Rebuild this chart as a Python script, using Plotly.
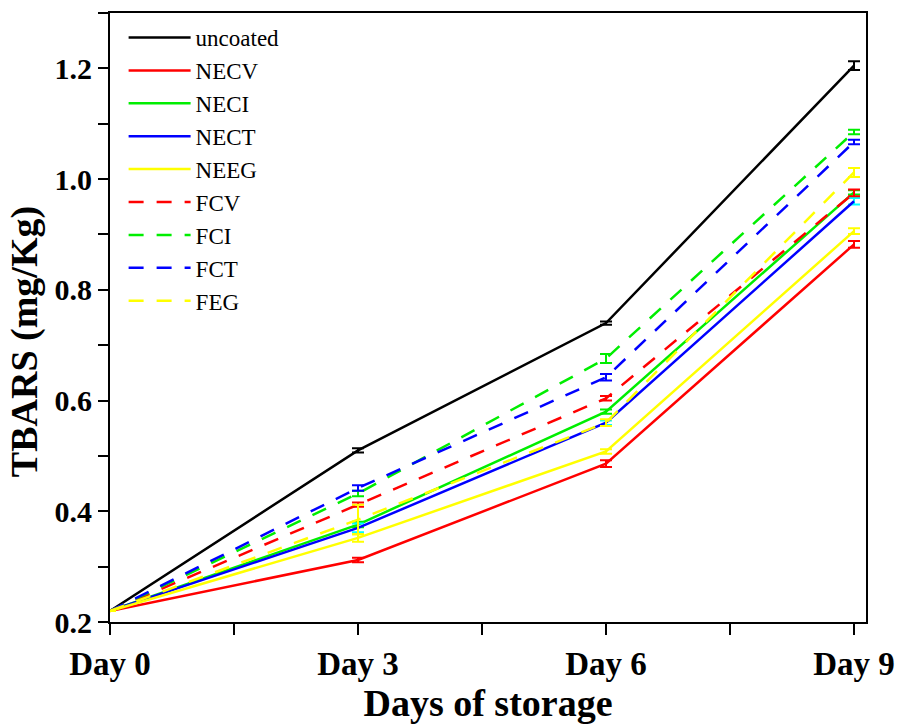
import plotly.graph_objects as go

days = [0, 3, 6, 9]
day_labels = ["Day 0", "Day 3", "Day 6", "Day 9"]

series_names = ["uncoated", "NECV", "NECI", "NECT", "NEEG", "FCV", "FCI", "FCT", "FEG"]
uncoated = [0.22, 0.51, 0.74, 1.205]
necv = [0.22, 0.312, 0.486, 0.882]
neci = [0.22, 0.376, 0.580, 0.976]
nect = [0.22, 0.370, 0.560, 0.960]
neeg = [0.22, 0.352, 0.508, 0.906]
fcv = [0.22, 0.412, 0.604, 0.975]
fci = [0.22, 0.432, 0.676, 1.085]
fct = [0.22, 0.442, 0.642, 1.067]
feg = [0.22, 0.385, 0.560, 1.012]

err_uncoated = [0, 0.004, 0.003, 0.008]
err_necv = [0, 0.004, 0.006, 0.006]
err_neci = [0, 0.005, 0.004, 0.004]
err_nect = [0, 0.008, 0.004, 0.006]
err_neeg = [0, 0.007, 0.004, 0.005]
err_fcv = [0, 0.004, 0.004, 0.006]
err_fci = [0, 0.005, 0.008, 0.004]
err_fct = [0, 0.005, 0.006, 0.004]
err_feg = [0, 0.027, 0.006, 0.008]

values = [uncoated, necv, neci, nect, neeg, fcv, fci, fct, feg]
errors = [err_uncoated, err_necv, err_neci, err_nect, err_neeg, err_fcv, err_fci, err_fct, err_feg]
line_colors = ["#000000", "#ff0000", "#00ee00", "#0000ff", "#ffff00", "#ff0000", "#00ee00", "#0000ff", "#ffff00"]
err_colors = ["#000000", "#ff0000", "#00ee00", "#00ffff", "#ffff00", "#ff0000", "#00ee00", "#0000ff", "#ffff00"]
dashes = ["solid"] * 5 + ["15px,13px"] * 4

fig = go.Figure()
for name, vals, errs, lc, ec, ds in zip(series_names, values, errors, line_colors, err_colors, dashes):
    fig.add_trace(go.Scatter(
        x=days, y=vals, name=name, mode="lines",
        line=dict(color=lc, width=2.5, dash=ds),
        error_y=dict(type="data", array=errs, visible=True, color=ec, thickness=2, width=6),
    ))

fig.add_annotation(
    text="<b>TBARS (mg/Kg)</b>", xref="paper", yref="paper", x=-0.112, y=0.46,
    xanchor="center", yanchor="middle", textangle=-90, showarrow=False,
    font=dict(family="Liberation Serif", size=38, color="black"),
)

fig.update_layout(
    width=906, height=724,
    margin=dict(l=110, r=40, t=13, b=102),
    paper_bgcolor="white", plot_bgcolor="white",
    showlegend=True,
    legend=dict(x=0.018, y=0.995, xanchor="left", yanchor="top",
                font=dict(family="Liberation Serif", size=23, color="black"),
                bgcolor="rgba(0,0,0,0)", tracegroupgap=0, itemwidth=62),
    xaxis=dict(
        range=[0, 9.145], tickvals=days, ticktext=day_labels, automargin=False,
        showgrid=False, zeroline=False, showline=True, linecolor="black", linewidth=2, mirror=True,
        ticks="outside", ticklen=11, tickwidth=2, tickcolor="black",
        minor=dict(dtick=1.5, tick0=0, ticks="outside", ticklen=11, tickwidth=2, tickcolor="black", showgrid=False),
        tickfont=dict(family="Liberation Serif", size=33, color="black", weight="bold"),
        title=dict(text="<b>Days of storage</b>", font=dict(family="Liberation Serif", size=38, color="black"), standoff=8),
    ),
    yaxis=dict(
        range=[0.2, 1.3], tickvals=[0.2, 0.4, 0.6, 0.8, 1.0, 1.2],
        ticktext=["0.2", "0.4", "0.6", "0.8", "1.0", "1.2"], automargin=False,
        showgrid=False, zeroline=False, showline=True, linecolor="black", linewidth=2, mirror=True,
        ticks="outside", ticklen=10, tickwidth=2, tickcolor="black", ticklabelstandoff=0,
        minor=dict(dtick=0.1, tick0=0.2, ticks="outside", ticklen=10, tickwidth=2, tickcolor="black", showgrid=False),
        tickfont=dict(family="Liberation Serif", size=30, color="black", weight="bold"),
    ),
)

fig.write_html("out.html", config={"displayModeBar": False},
               post_script="document.body.style.margin='0';document.body.style.overflow='hidden';")
